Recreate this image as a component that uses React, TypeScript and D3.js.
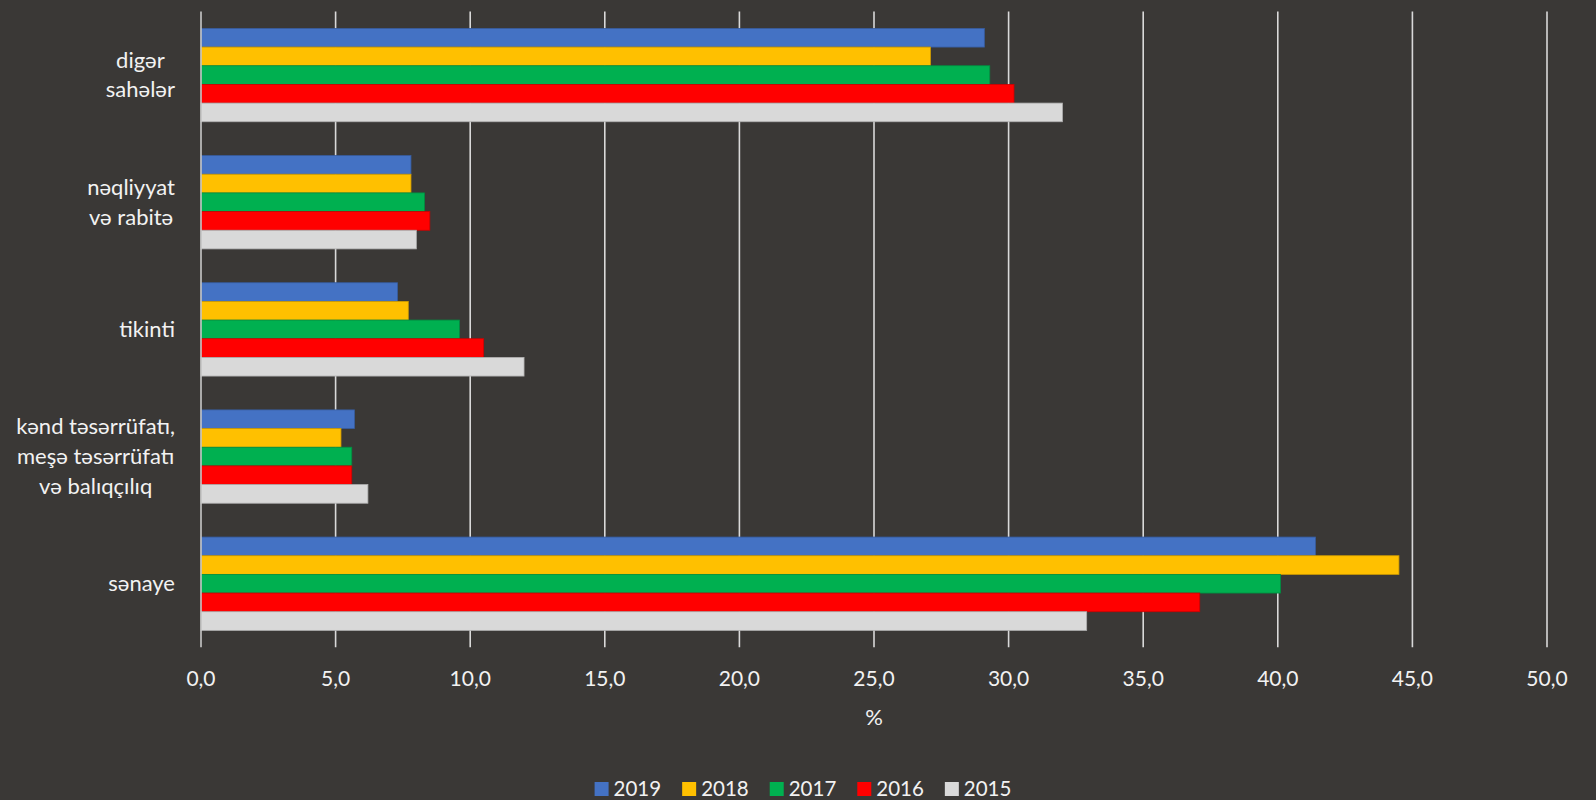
import React, { useEffect, useRef } from 'react';
import * as d3 from 'd3';

// Categories, top to bottom (label lines as they wrap in the picture)
const categories = ['digər sahələr', 'nəqliyyat və rabitə', 'tikinti', 'kənd təsərrüfatı, meşə təsərrüfatı və balıqçılıq', 'sənaye'];
const categoryLines = [
  ['digər', 'sahələr'],
  ['nəqliyyat', 'və rabitə'],
  ['tikinti'],
  ['kənd təsərrüfatı,', 'meşə təsərrüfatı', 'və balıqçılıq'],
  ['sənaye'],
];

const years = ['2019', '2018', '2017', '2016', '2015'];
const yearColors = ['#4472C4', '#FFC000', '#00B050', '#FF0000', '#D9D9D9'];

// values per year, in category order
const values2019 = [29.1, 7.8, 7.3, 5.7, 41.4];
const values2018 = [27.1, 7.8, 7.7, 5.2, 44.5];
const values2017 = [29.3, 8.3, 9.6, 5.6, 40.1];
const values2016 = [30.2, 8.5, 10.5, 5.6, 37.1];
const values2015 = [32.0, 8.0, 12.0, 6.2, 32.9];
const seriesValues = [values2019, values2018, values2017, values2016, values2015];

const xTicks = [0, 5, 10, 15, 20, 25, 30, 35, 40, 45, 50];

export default function App() {
  const svgRef = useRef<SVGSVGElement>(null);

  useEffect(() => {
    document.body.style.margin = '0';
    if (!svgRef.current) return;
    const svg = d3.select(svgRef.current);
    svg.selectAll('*').remove();

    const width = 1596;
    const height = 800;
    const plot = { left: 201, right: 1547, top: 11.5, bottom: 647.3 };
    const font = 'Lato, "Open Sans", sans-serif';
    const textColor = '#f2f2f2';

    svg.append('rect').attr('width', width).attr('height', height).attr('fill', '#3a3836');

    const x = d3.scaleLinear().domain([0, 50]).range([plot.left, plot.right]);
    const y = d3.scaleBand<string>()
      .domain(categories)
      .range([plot.top, plot.bottom])
      .paddingInner(0.266)
      .paddingOuter(0.133);
    const ySub = d3.scaleBand<string>().domain(years).range([0, y.bandwidth()]);

    // vertical gridlines
    svg.append('g')
      .selectAll('line')
      .data(xTicks.slice(1))
      .join('line')
      .attr('x1', d => x(d))
      .attr('x2', d => x(d))
      .attr('y1', plot.top)
      .attr('y2', plot.bottom)
      .attr('stroke', '#d9d9d9')
      .attr('stroke-width', 1.6);

    // bars
    const groups = svg.append('g')
      .selectAll('g')
      .data(categories)
      .join('g')
      .attr('transform', d => `translate(0,${y(d)})`);

    groups.selectAll('rect')
      .data((_, i) => years.map((yr, j) => ({ yr, v: seriesValues[j][i], c: yearColors[j] })))
      .join('rect')
      .attr('x', x(0))
      .attr('y', d => ySub(d.yr)!)
      .attr('width', d => x(d.v) - x(0))
      .attr('height', ySub.bandwidth())
      .attr('fill', d => d.c)
      .attr('stroke', d => d3.color(d.c)!.darker(0.6).toString())
      .attr('stroke-width', 0.8);

    // vertical axis line
    svg.append('line')
      .attr('x1', x(0))
      .attr('x2', x(0))
      .attr('y1', plot.top)
      .attr('y2', plot.bottom)
      .attr('stroke', '#c8c8c8')
      .attr('stroke-width', 1.6);

    // x tick labels
    svg.append('g')
      .selectAll('text')
      .data(xTicks)
      .join('text')
      .attr('x', d => x(d))
      .attr('y', 686)
      .attr('text-anchor', 'middle')
      .attr('font-family', font)
      .attr('font-size', 21)
      .attr('fill', textColor)
      .text(d => d3.format('.1f')(d).replace('.', ','));

    // axis title
    svg.append('text')
      .attr('x', (plot.left + plot.right) / 2)
      .attr('y', 725)
      .attr('text-anchor', 'middle')
      .attr('font-family', font)
      .attr('font-size', 22)
      .attr('fill', textColor)
      .text('%');

    // category labels, wrapped and centred, right edge near the axis
    const lineH = 29.8;
    categories.forEach((cat, i) => {
      const lines = categoryLines[i];
      const cy = y(cat)! + y.bandwidth() / 2;
      const g = svg.append('g');
      const texts = g.selectAll('text')
        .data(lines)
        .join('text')
        .attr('y', (_, k) => cy + (k - (lines.length - 1) / 2) * lineH + 7.5)
        .attr('text-anchor', 'middle')
        .attr('font-family', font)
        .attr('font-size', 22)
        .attr('fill', textColor)
        .text(d => d);
      let maxW = 0;
      texts.each(function () {
        maxW = Math.max(maxW, (this as SVGTextElement).getComputedTextLength());
      });
      texts.attr('x', 175 - maxW / 2);
    });

    // legend
    const legend = svg.append('g');
    const items = legend.selectAll('g')
      .data(years)
      .join('g');
    items.append('rect')
      .attr('width', 14)
      .attr('height', 14)
      .attr('y', 782)
      .attr('fill', (_, j) => yearColors[j]);
    items.append('text')
      .attr('x', 19)
      .attr('y', 796)
      .attr('font-family', font)
      .attr('font-size', 20.5)
      .attr('fill', textColor)
      .text(d => d);
    const gap = 21;
    let cursor = 0;
    const offsets: number[] = [];
    items.each(function () {
      const t = d3.select(this).select('text').node() as SVGTextElement;
      offsets.push(cursor);
      cursor += 19 + t.getComputedTextLength() + gap;
    });
    const total = cursor - gap;
    const start = 803 - total / 2;
    items.attr('transform', (_, j) => `translate(${start + offsets[j]},0)`);
  }, []);

  return <svg ref={svgRef} width={1596} height={800} style={{ display: 'block' }} />;
}
